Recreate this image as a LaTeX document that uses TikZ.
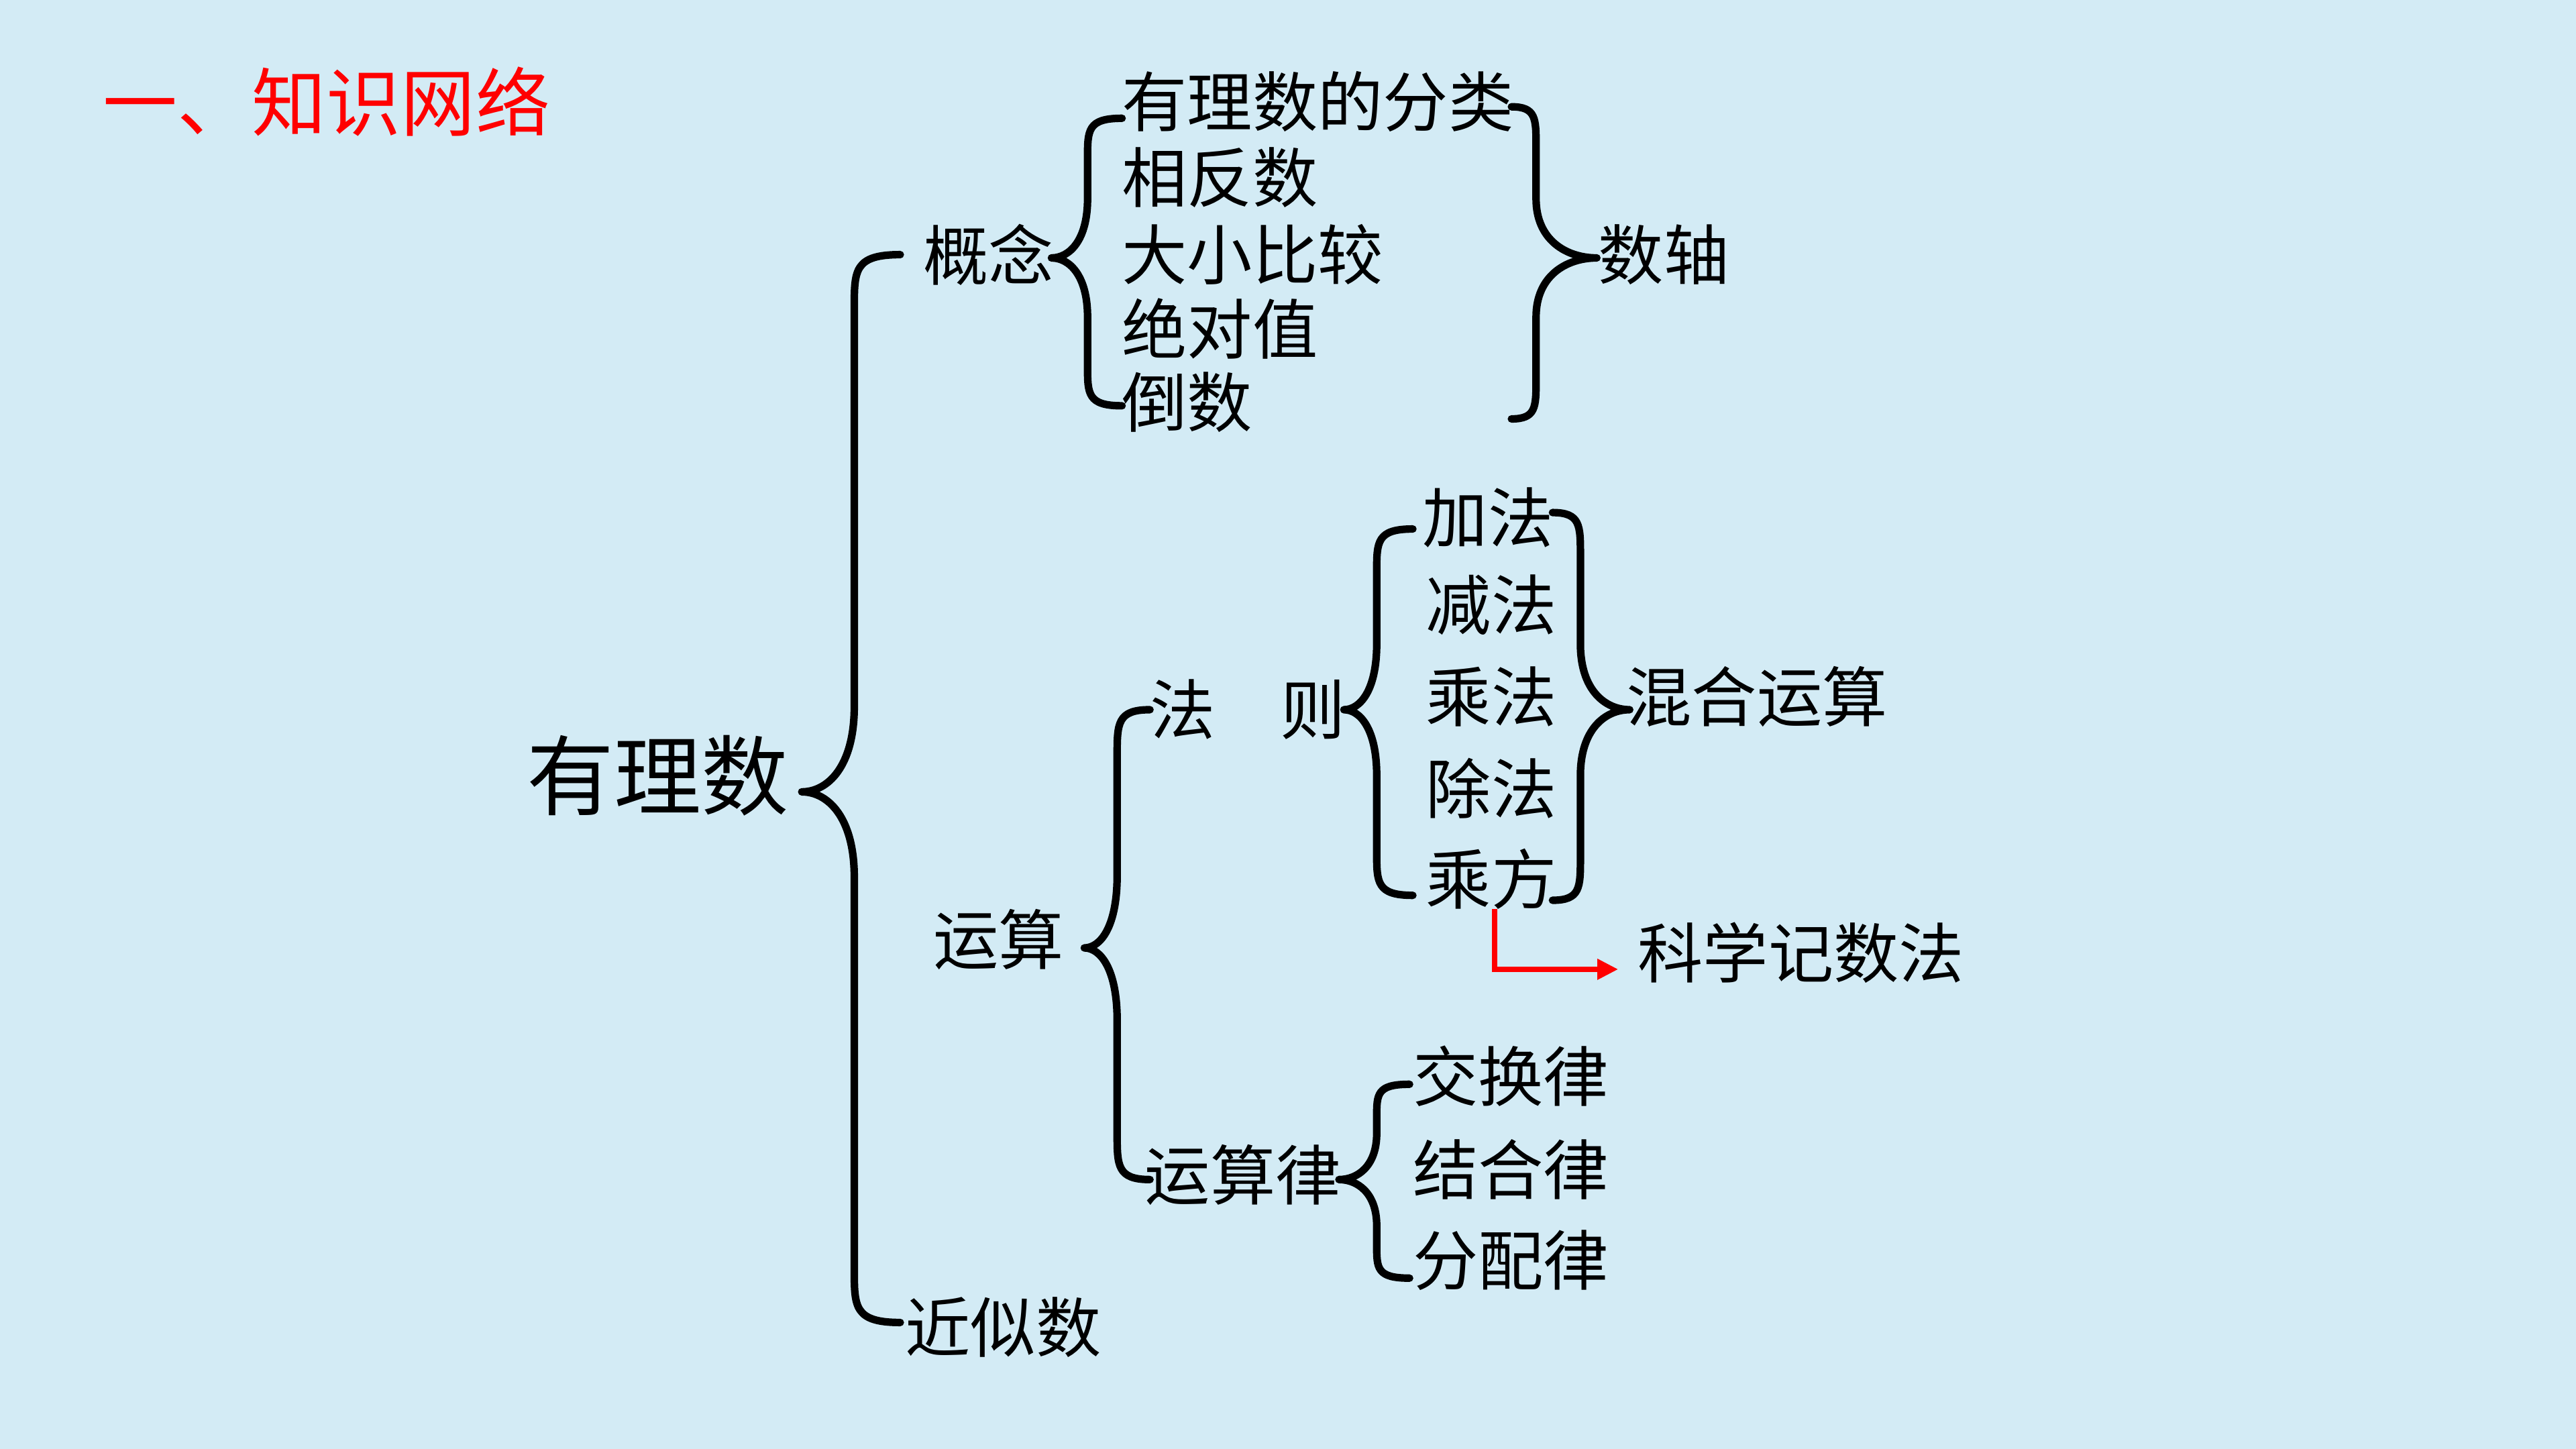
\documentclass[tikz,border=0pt]{standalone}
\usepackage{fontspec}
\newfontfamily\cjk{Noto Sans CJK SC}
\usetikzlibrary{arrows.meta}
\definecolor{bg}{RGB}{211,235,245}
\definecolor{titlered}{RGB}{255,0,0}
\tikzset{
  brline/.style={line width=1.3pt, line cap=round, line join=round},
  item/.style={anchor=west, inner sep=0pt, outer sep=0pt, font=\cjk\fontsize{11.3}{12}\selectfont},
  redarr/.style={draw=red, line width=0.9pt, -{Triangle[length=3.6pt,width=3.4pt]}},
}
% #1 end x, #2 vertical x, #3 tip x, #4 top y, #5 tip y, #6 bottom y, #7 end curl, #8 tip curl
\newcommand\brc[8]{%
  \draw[brline] (#1,#4) .. controls (#2,#4) and (#2,{#4+0.3*#7}) .. (#2,{#4+#7})
    -- (#2,{#5-#8}) .. controls (#2,{#5-0.3*#8}) and ({(#2+#3)/2},#5) .. (#3,#5)
    .. controls ({(#2+#3)/2},#5) and (#2,{#5+0.3*#8}) .. (#2,{#5+#8})
    -- (#2,{#6-#7}) .. controls (#2,{#6-0.3*#7}) and (#2,#6) .. (#1,#6);}
\begin{document}
\begin{tikzpicture}[x=0.01cm,y=-0.01cm]
\fill[bg] (0,0) rectangle (1568,882);
\useasboundingbox (0,0) rectangle (1568,882);
% title
\node[anchor=west, inner sep=0pt, text=titlered, font=\cjk\fontsize{12.9}{14}\selectfont] (title) at (62,62) {一、知识网络};
% root
\node[anchor=west, inner sep=0pt, font=\cjk\fontsize{15.1}{16}\selectfont] (root) at (320,472) {有理数};
% level 1
\node[item] (gn) at (562,155) {概念};
\node[item] (ys) at (568,572) {运算};
\node[item] (jss) at (551,808) {近似数};
% concepts
\node[item] (c1) at (683,62) {有理数的分类};
\node[item] (c2) at (683,108) {相反数};
\node[item] (c3) at (683,155) {大小比较};
\node[item] (c4) at (683,200) {绝对值};
\node[item] (c5) at (683,245) {倒数};
\node[item] (sz) at (973,155) {数轴};
% operations
\node[item] (fz) at (700,432) {法　则};
\node[item] (ysl) at (697,715) {运算律};
\node[item] (jf) at (866,315) {加法};
\node[item] (jf2) at (868,368) {减法};
\node[item] (cf) at (868,424) {乘法};
\node[item] (chf) at (868,480) {除法};
\node[item] (cfang) at (868,535) {乘方};
\node[item] (hh) at (990,424) {混合运算};
\node[item] (kx) at (997,580) {科学记数法};
\node[item] (l1) at (860,655) {交换律};
\node[item] (l2) at (860,712) {结合律};
\node[item] (l3) at (860,767) {分配律};
% braces
\brc{548}{520}{488}{155}{482}{805}{32}{52}
\brc{683}{662}{640}{72}{157}{247}{24}{36}
\brc{920}{935}{972}{65}{157}{255}{24}{36}
\brc{700}{680}{660}{432}{577}{718}{28}{44}
\brc{860}{838}{818}{322}{432}{545}{26}{40}
\brc{945}{962}{992}{312}{432}{548}{26}{40}
\brc{858}{838}{815}{660}{718}{778}{20}{28}
% red arrow
\draw[redarr] ([xshift=0.02cm]cfang.south) |- ([xshift=-0.12cm,yshift=-0.1cm]kx.west);
\end{tikzpicture}
\end{document}
